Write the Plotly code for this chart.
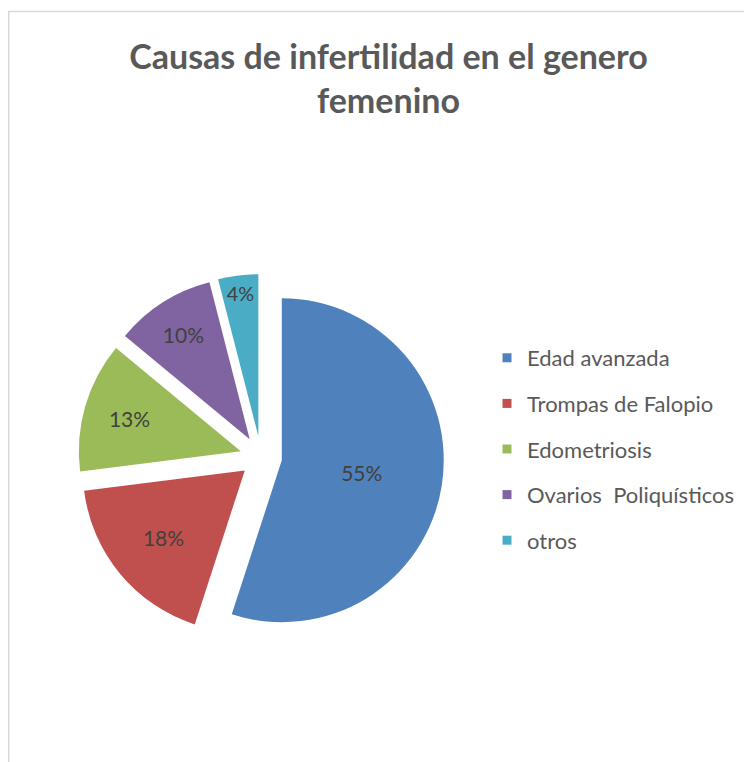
import plotly.graph_objects as go

categories = ["Edad avanzada", "Trompas de Falopio", "Edometriosis",
              "Ovarios  Poliquísticos", "otros"]
values = [55, 18, 13, 10, 4]
colors = ["#4F81BD", "#C0504D", "#9BBB59", "#8064A2", "#4BACC6"]
title_text = "Causas de infertilidad en el genero<br>femenino"

W, H = 752, 762
OFF = 8  # page body margin
FONT = "Lato"


def px_x(v):
    return (v - OFF) / W


def px_y(v):
    return 1 - (v - OFF) / H


fig = go.Figure()
fig.add_trace(go.Pie(
    labels=categories,
    values=values,
    sort=False,
    direction="clockwise",
    rotation=0,
    pull=[0.13] * len(values),
    marker=dict(colors=colors, line=dict(width=0)),
    textinfo="percent",
    textposition="inside",
    insidetextorientation="horizontal",
    textfont=dict(family=FONT, size=21, color="#404040"),
    showlegend=False,
    hoverinfo="label+percent",
    domain=dict(x=[px_x(78), px_x(444)], y=[px_y(640), px_y(274)]),
))

# legend entries (one per category)
for cat, col in zip(categories, colors):
    fig.add_trace(go.Scatter(
        x=[None], y=[None], mode="markers", name=cat, legendgroup=cat,
        marker=dict(symbol="square", size=9, color=col),
        showlegend=True, hoverinfo="skip",
    ))

fig.update_layout(
    width=W, height=H, autosize=False,
    margin=dict(l=0, r=0, t=0, b=0),
    paper_bgcolor="white", plot_bgcolor="white",
    xaxis=dict(visible=False), yaxis=dict(visible=False),
    title=dict(
        text=title_text,
        x=px_x(388.5), xanchor="center", xref="paper",
        y=px_y(69), yanchor="top", yref="paper",
        font=dict(family=FONT, size=34, color="#595959", weight="bold"),
    ),
    legend=dict(
        x=px_x(487), xanchor="left",
        y=px_y(337), yanchor="top",
        font=dict(family=FONT, size=22, color="#595959"),
        tracegroupgap=14,
        bgcolor="rgba(0,0,0,0)",
    ),
    shapes=[dict(
        type="rect", xref="paper", yref="paper",
        x0=0.75 / W, x1=1.2, y0=-0.2, y1=px_y(11.5),
        line=dict(color="#D9D9D9", width=1.5),
        fillcolor="rgba(0,0,0,0)", layer="below",
    )],
)

fig.write_html("out.html")
